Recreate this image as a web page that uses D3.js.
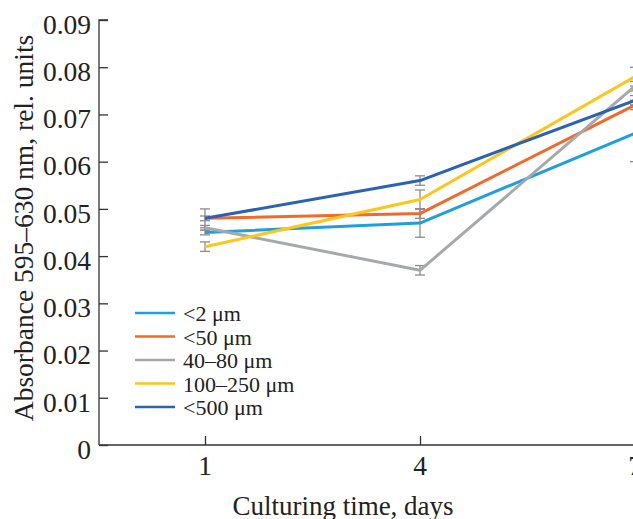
<!DOCTYPE html>
<html><head><meta charset="utf-8">
<script src="https://cdn.jsdelivr.net/npm/d3@7"></script>
<style>body{margin:0;background:#fff}svg{display:block}</style>
</head><body>
<svg id="c" width="633" height="519"></svg>
<script>
const days = [1, 4, 7];
const seriesNames = ["<2 μm", "<50 μm", "40–80 μm", "100–250 μm", "<500 μm"];
const seriesColors = ["#1f9fe0", "#f26a2b", "#a6a9ab", "#ffc61a", "#2a62b6"];
const vSmall2 = [0.045, 0.047, 0.066];
const v50 = [0.048, 0.049, 0.072];
const v4080 = [0.046, 0.037, 0.076];
const v100250 = [0.042, 0.052, 0.078];
const v500 = [0.048, 0.056, 0.073];
const eSmall2 = [0.0005, 0.003, 0.006];
const e50 = [0.0005, 0.001, 0.001];
const e4080 = [0.0005, 0.001, 0.001];
const e100250 = [0.001, 0.002, 0.002];
const e500 = [0.002, 0.001, 0.001];
const yTicks = [0, 0.01, 0.02, 0.03, 0.04, 0.05, 0.06, 0.07, 0.08, 0.09];
const yTickLabels = ["0", "0.01", "0.02", "0.03", "0.04", "0.05", "0.06", "0.07", "0.08", "0.09"];
const xTickLabels = ["1", "4", "7"];

const values = [vSmall2, v50, v4080, v100250, v500];
const errs = [eSmall2, e50, e4080, e100250, e500];

const svg = d3.select("#c");
const font = "'Liberation Serif', 'Times New Roman', serif";
const x = d3.scaleLinear().domain([1, 7]).range([205, 635]);
const y = d3.scaleLinear().domain([0, 0.09]).range([445, 20]);
const axisColor = "#333";
const textColor = "#222";

// Y axis
const yAxis = svg.append("g").attr("transform", "translate(99,0)")
  .call(d3.axisRight(y).tickValues(yTicks).tickSize(9).tickFormat(""));
yAxis.select(".domain").attr("d", `M9,${y(0.09)}H0V${y(0)}`);
yAxis.selectAll("line, path").attr("stroke", axisColor).attr("stroke-width", 1.3);
svg.append("g").selectAll("text").data(yTicks).join("text")
  .attr("x", 91).attr("y", d => y(d)).attr("dy", "0.5em")
  .attr("text-anchor", "end").attr("font-family", font).attr("font-size", 27.5)
  .attr("fill", textColor).text((d, i) => yTickLabels[i]);

// X axis
const xAxis = svg.append("g").attr("transform", `translate(0,${y(0)})`)
  .call(d3.axisTop(x).tickValues(days).tickSize(9).tickFormat(""));
xAxis.select(".domain").attr("d", `M99,0H640`);
xAxis.selectAll("line, path").attr("stroke", axisColor).attr("stroke-width", 1.3);
svg.append("g").selectAll("text").data(days).join("text")
  .attr("x", d => x(d)).attr("y", 475)
  .attr("text-anchor", "middle").attr("font-family", font).attr("font-size", 27.5)
  .attr("fill", textColor).text((d, i) => xTickLabels[i]);

// Titles
svg.append("text").attr("x", 343).attr("y", 515).attr("text-anchor", "middle")
  .attr("font-family", font).attr("font-size", 27).attr("fill", textColor)
  .text("Culturing time, days");
svg.append("text").attr("transform", "translate(33,228) rotate(-90)").attr("text-anchor", "middle")
  .attr("font-family", font).attr("font-size", 27.5).attr("fill", textColor)
  .text("Absorbance 595–630 nm, rel. units");

// Error bars
const eb = svg.append("g");
values.forEach((vals, si) => {
  vals.forEach((v, i) => {
    const e = errs[si][i];
    const cx = x(days[i]);
    eb.append("line").attr("x1", cx).attr("x2", cx).attr("y1", y(v - e)).attr("y2", y(v + e))
      .attr("stroke", "#8c8c8c").attr("stroke-width", 1.3);
    [v - e, v + e].forEach(t => eb.append("line").attr("x1", cx - 5).attr("x2", cx + 5)
      .attr("y1", y(t)).attr("y2", y(t)).attr("stroke", "#8c8c8c").attr("stroke-width", 1.3));
  });
});

// Lines
const line = d3.line().x((d, i) => x(days[i])).y(d => y(d));
values.forEach((vals, si) => {
  svg.append("path").datum(vals).attr("d", line).attr("fill", "none")
    .attr("stroke", seriesColors[si]).attr("stroke-width", 3).attr("stroke-linejoin", "round");
});

// Legend
const lg = svg.append("g");
seriesNames.forEach((n, i) => {
  const ly = 313 + i * 23.5;
  lg.append("line").attr("x1", 135).attr("x2", 175).attr("y1", ly).attr("y2", ly)
    .attr("stroke", seriesColors[i]).attr("stroke-width", 2.5);
  lg.append("text").attr("x", 183).attr("y", ly).attr("dy", "0.38em")
    .attr("font-family", font).attr("font-size", 22).attr("fill", textColor).text(n);
});
</script>
</body></html>
